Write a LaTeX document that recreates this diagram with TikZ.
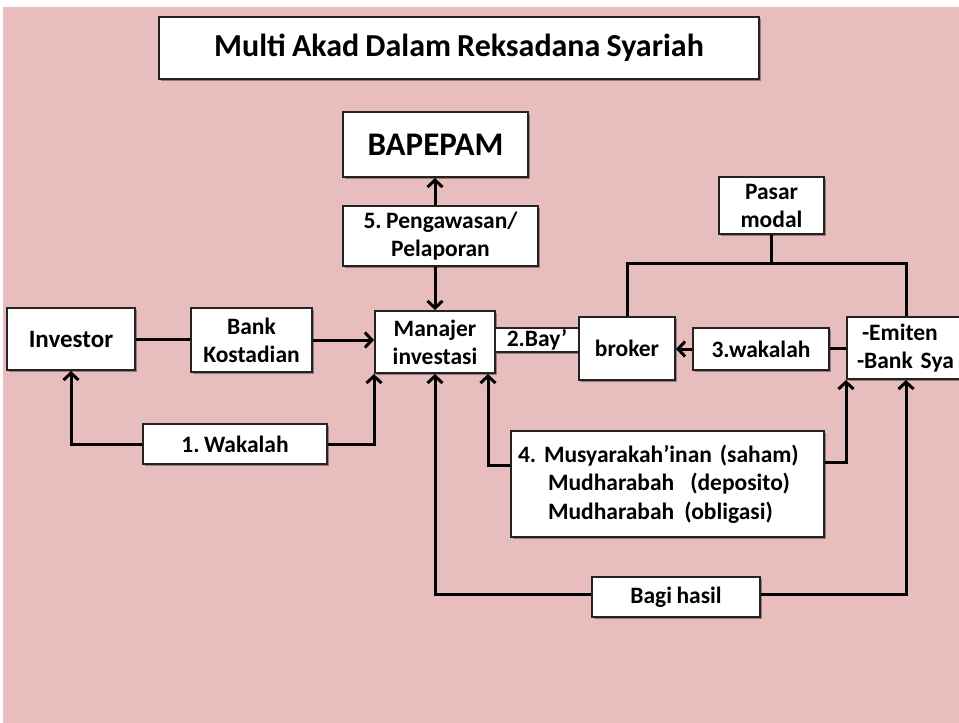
\documentclass[tikz,border=0pt]{standalone}
\usepackage{fontspec}
\setmainfont{Carlito}
\usetikzlibrary{arrows.meta,shadows}
\definecolor{bgpink}{RGB}{232,189,190}
\definecolor{boxline}{RGB}{35,35,35}
\newcommand{\tightsp}{\frenchspacing\spaceskip=0.19em plus 0.05em\relax}
\begin{document}
\begin{tikzpicture}[x=1pt,y=-1pt,
  font=\bfseries\fontsize{23.5}{28}\selectfont\tightsp,
  box/.style={draw=boxline, line width=2pt, fill=white, inner sep=2pt, align=center,
    drop shadow={shadow xshift=1.5pt, shadow yshift=-1.5pt, fill=black, opacity=0.35}},
  conn/.style={line width=3pt, draw=black},
  arr/.style={conn, -{Straight Barb[length=7pt,width=15pt]}}]
\useasboundingbox (0,0) rectangle (959,723);
\clip (0,0) rectangle (959,723);
\fill[bgpink] (3,7) rectangle (959,723);

\node[box, minimum width=600pt, minimum height=62pt, font=\bfseries\fontsize{32}{36}\selectfont\tightsp] (title) at (459,48) {Multi Akad Dalam Reksadana Syariah};
\node[box, minimum width=185pt, minimum height=65pt, font=\bfseries\fontsize{33}{36}\selectfont] (bap) at (435.5,144.5) {BAPEPAM};
\node[box, minimum width=195pt, minimum height=60pt] (peng) at (440.5,236) {5. Pengawasan/\\Pelaporan};
\node[box, minimum width=128pt, minimum height=62pt, font=\bfseries\fontsize{25}{28}\selectfont] (inv) at (71,339) {Investor};
\node[box, minimum width=121pt, minimum height=64pt] (bank) at (251.5,340) {Bank\\Kostadian};
\node[box, minimum width=120pt, minimum height=62pt] (man) at (435,342) {Manajer\\investasi};
\node[box, minimum width=84pt, minimum height=24pt, inner sep=0pt] (bay) at (537,340) {2.Bay’};
\node[box, minimum width=96pt, minimum height=63pt] (bro) at (627,348.5) {broker};
\node[box, minimum width=136pt, minimum height=42pt] (wak3) at (761,349) {3.wakalah};
\node[box, minimum width=133pt, minimum height=62pt, text width=113pt, align=left, inner xsep=10pt] (emi) at (913.5,348) {\hspace*{5pt}-Emiten\\-Bank Sya};
\node[box, minimum width=105pt, minimum height=57pt] (pas) at (771.5,205.5) {Pasar\\modal};
\node[box, minimum width=184pt, minimum height=40pt] (wak1) at (235,444) {1. Wakalah};
\node[box, minimum width=313pt, minimum height=106pt, text width=299pt, align=left, inner xsep=7pt,
  font=\bfseries\fontsize{23.5}{28.5}\selectfont\tightsp] (mus) at (667.5,484)
  {4. Musyarakah’inan (saham)\\
   \hspace*{30pt}Mudharabah\hspace{16pt}(deposito)\\
   \hspace*{30pt}Mudharabah\hspace{10pt}(obligasi)};
\node[box, minimum width=168pt, minimum height=40pt] (bagi) at (676,597) {Bagi hasil};

% connectors
\draw[conn] (inv.east) -- (inv.east -| bank.west);
\draw[arr] (bank.east) -- (bank.east -| man.west);
\draw[arr] (man.north |- peng.north) -- (man.north |- bap.south);
\draw[arr] (man.north |- peng.south) -- (man.north);
\draw[arr] (wak1.west) -| (inv.south);
\draw[arr] (wak1.east) -| (man.south west);
\coordinate (pj) at (770,263);
\draw[conn] (pas.south) -- (pas.south |- pj);
\draw[conn] (bro.north) |- (pj) -| ([xshift=60pt]emi.north west);
\draw[conn] (emi.west) -- (emi.west -| wak3.east);
\draw[arr] (wak3.west) -- (wak3.west -| bro.east);
\draw[arr] ([yshift=19pt]mus.west) -| ([xshift=-8pt]man.south east);
\draw[arr] ([yshift=22pt]mus.east) -| (emi.south west);
\draw[arr] ([yshift=3pt]bagi.west) -| (man.south);
\draw[arr] ([yshift=3pt]bagi.east) -| ([xshift=60pt]emi.south west);
\end{tikzpicture}
\end{document}
